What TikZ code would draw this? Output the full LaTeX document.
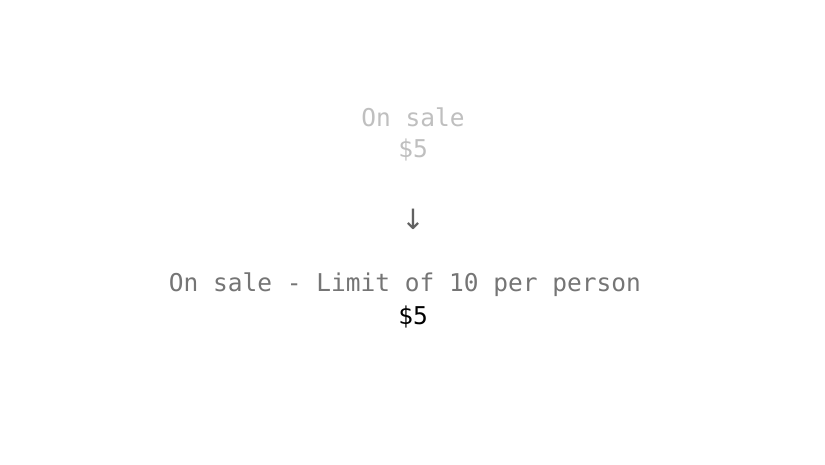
\documentclass[tikz,border=0pt]{standalone}
\usepackage{fontspec}
\setmonofont{DejaVu Sans Mono}
\newfontfamily\arrfont{DejaVu Sans}
\begin{document}
\begin{tikzpicture}[x=1pt,y=1pt,
  txt/.style={anchor=base,inner sep=0pt,font=\ttfamily\fontsize{24.5}{29}\selectfont},
  faded/.style={txt,text=black!25},
  mid/.style={txt,text=black!54},
  arr/.style={anchor=base,inner sep=0pt,font=\arrfont\fontsize{28}{32}\selectfont,text=black!62}]
\fill[white] (0,0) rectangle (825,-465);
\useasboundingbox (0,0) rectangle (825,-465);
\node[faded] (t1) at (413,-127) {On sale};
\node[faded] (t2) at (413,-158) {\$5};
\node[arr] (ar) at (413,-230) {↓};
\node[mid] (b1) at (405,-291) {On sale - Limit of 10 per person};
\node[txt,text=black] (b2) at (413,-324) {\$5};
\end{tikzpicture}
\end{document}
